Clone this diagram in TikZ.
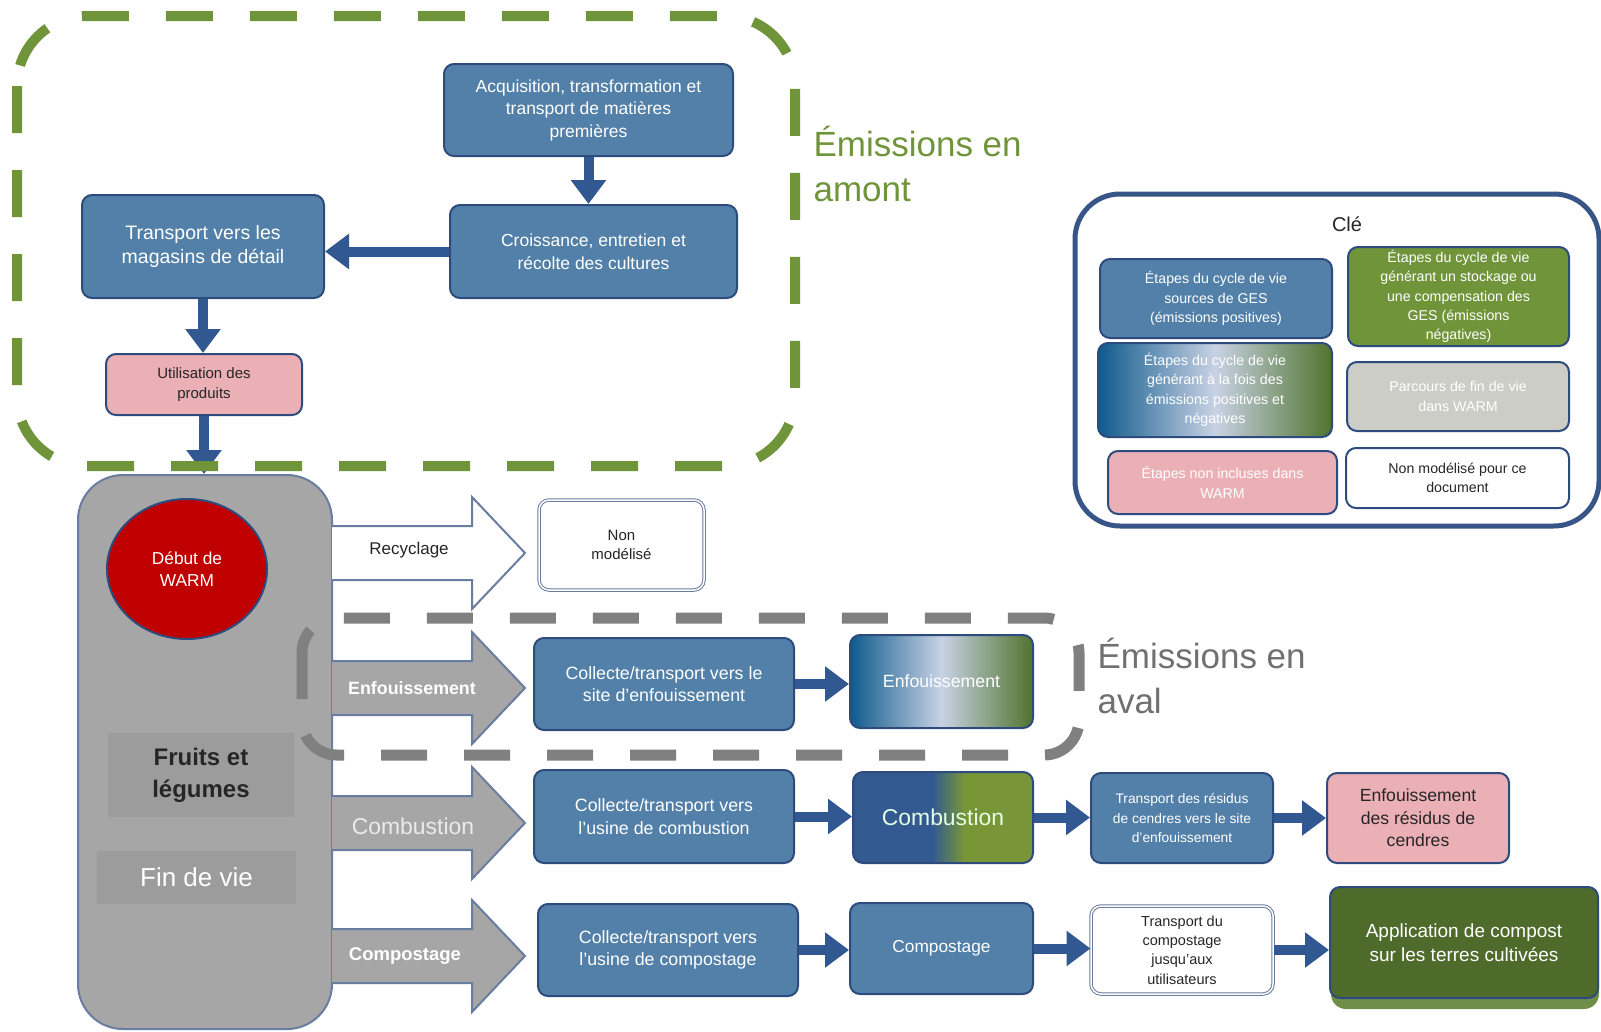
\documentclass[tikz,border=0pt]{standalone}
\usepackage{fontspec}
\setmainfont{Liberation Sans}
\usetikzlibrary{arrows.meta,shapes.geometric}

\definecolor{boxblue}{RGB}{82,128,168}
\definecolor{boxline}{RGB}{45,75,125}
\definecolor{flowblue}{RGB}{50,88,145}
\definecolor{emgreen}{RGB}{112,148,58}
\definecolor{appgreen}{RGB}{78,107,44}
\definecolor{appshadow}{RGB}{112,142,72}
\definecolor{eolgrey}{RGB}{166,166,166}
\definecolor{labelgrey}{RGB}{156,156,156}
\definecolor{dashgrey}{RGB}{128,128,128}
\definecolor{avalgrey}{RGB}{112,112,112}
\definecolor{pinkbox}{RGB}{234,176,182}
\definecolor{keygrey}{RGB}{205,205,200}
\definecolor{keyline}{RGB}{55,85,135}
\definecolor{gradblue}{RGB}{15,90,140}
\definecolor{gradlight}{RGB}{200,210,228}
\definecolor{gradgreen}{RGB}{80,115,45}
\definecolor{combblue}{RGB}{50,90,145}
\definecolor{combgreen}{RGB}{120,150,55}
\definecolor{darktext}{RGB}{38,38,38}
\definecolor{warmred}{RGB}{192,0,0}
\definecolor{arrowline}{RGB}{105,125,160}

\newcommand{\txtsize}[2]{\fontsize{#1}{#2}\selectfont}

\pgfdeclarehorizontalshading{combshade}{100bp}{color(0bp)=(combblue); color(25bp)=(combblue); color(47bp)=(combblue); color(56bp)=(combgreen); color(75bp)=(combgreen); color(100bp)=(combgreen)}

\tikzset{
  stage/.style={rectangle, rounded corners=10pt, draw=boxline, line width=2pt, fill=boxblue, text=white, align=center, inner sep=2pt},
  pinkstage/.style={stage, fill=pinkbox, text=darktext},
  openstage/.style={stage, fill=white, text=darktext, draw=arrowline, line width=1pt, double=white, double distance=1.5pt},
  bothshade/.style={left color=gradblue, right color=gradgreen, middle color=gradlight},
  flow/.style={draw=flowblue, line width=10pt, -{Triangle[length=24pt,width=34pt]}},
  keybox/.style={rectangle, rounded corners=10pt, draw=boxline, line width=2pt, align=center, inner sep=1pt, font=\txtsize{14.2}{19.4}}
}

\begin{document}
\begin{tikzpicture}[x=1pt,y=-1pt]
\useasboundingbox (0,0) rectangle (1601,1031);

\node[stage, minimum width=289pt, minimum height=92pt, font=\txtsize{17.5}{22.5}] (acq) at (588.5,110) {Acquisition, transformation et\\transport de matières\\premières};
\node[stage, minimum width=287pt, minimum height=93pt, font=\txtsize{17.5}{22.5}] (crois) at (593.5,251.5) {Croissance, entretien et\\récolte des cultures};
\node[stage, minimum width=242pt, minimum height=103pt, font=\txtsize{19.5}{24.5}] (magasin) at (203,246.5) {Transport vers les\\magasins de détail};
\node[pinkstage, minimum width=196pt, minimum height=61pt, font=\txtsize{15}{19.5}] (util) at (204,384.5) {Utilisation des\\produits};

\node[draw=arrowline, line width=2pt, fill=eolgrey, rounded corners=45pt, minimum width=254pt, minimum height=554pt] (eol) at (205,752) {};
\node[fill=labelgrey, minimum width=186pt, minimum height=84pt, text=darktext, align=center, font=\bfseries\txtsize{24}{32}] (fruits) at (201,775) {Fruits et\\légumes};
\node[fill=labelgrey, minimum width=199pt, minimum height=53pt, text=white, font=\txtsize{26}{30}] (findevie) at (196.5,877) {Fin de vie};
\node[ellipse, draw=boxline, line width=2pt, fill=warmred, minimum width=160pt, minimum height=140pt, text=white, align=center, font=\txtsize{17.3}{21.5}] (debut) at (187,569) {Début de\\WARM};

\draw[dashgrey, line width=11pt, dash pattern=on 46pt off 37pt, rounded corners=35pt] (302,618) rectangle (1079,755);

\foreach \yc/\fc in {553/white, 688/eolgrey, 823/eolgrey, 956/eolgrey}
  \draw[draw=arrowline, line width=2pt, fill=\fc] (332,\yc-27) -- (472,\yc-27) -- (472,\yc-56) -- (525,\yc) -- (472,\yc+56) -- (472,\yc+27) -- (332,\yc+27);

\node[text=darktext, font=\txtsize{17}{20}] (recy) at (409,550) {Recyclage};
\node[text=white, font=\bfseries\txtsize{17.8}{20}] (enfarr) at (412,688) {Enfouissement};
\node[text=white!92!black, font=\txtsize{22.9}{26}] (combarr) at (413,826) {Combustion};
\node[text=white, font=\bfseries\txtsize{18.5}{22}] (comparr) at (405,956) {Compostage};

\node[openstage, minimum width=165pt, minimum height=90pt, font=\txtsize{15}{19.5}] (nonmod) at (621.5,545) {Non\\modélisé};

\node[stage, minimum width=260pt, minimum height=92pt, font=\txtsize{17.8}{22.5}] (colenf) at (664,684) {Collecte/transport vers le\\site d’enfouissement};
\node[stage, bothshade, minimum width=183pt, minimum height=93pt, font=\txtsize{17.7}{21}] (enf) at (941.5,681.5) {Enfouissement};

\node[stage, minimum width=260pt, minimum height=93pt, font=\txtsize{17.8}{22.5}] (colcomb) at (664,816.5) {Collecte/transport vers\\l’usine de combustion};
\node[stage, shading=combshade, text=white!90!green, minimum width=180pt, minimum height=91pt, font=\txtsize{22.9}{26}] (comb) at (943,817.5) {Combustion};
\node[stage, minimum width=182pt, minimum height=90pt, font=\txtsize{13.8}{19.4}] (cendres) at (1182,818) {Transport des résidus\\de cendres vers le site\\d’enfouissement};
\node[pinkstage, minimum width=182pt, minimum height=90pt, font=\txtsize{17.6}{22.5}] (enfcend) at (1418,818) {Enfouissement\\des résidus de\\cendres};

\node[stage, minimum width=260pt, minimum height=92pt, font=\txtsize{17.8}{22.5}] (colcomp) at (668,950) {Collecte/transport vers\\l’usine de compostage};
\node[stage, minimum width=183pt, minimum height=91pt, font=\txtsize{17.3}{21}] (compo) at (941.5,948.5) {Compostage};
\node[openstage, minimum width=182pt, minimum height=88pt, font=\txtsize{14.5}{19.4}] (trcomp) at (1182,950) {Transport du\\compostage\\jusqu’aux\\utilisateurs};
\fill[appshadow, rounded corners=15pt] (1331,905) rectangle (1599,1009);
\node[stage, fill=appgreen, minimum width=268pt, minimum height=111pt, font=\txtsize{19}{23.5}] (appli) at (1464,942.5) {Application de compost\\sur les terres cultivées};

\draw[flow] (acq.south) -- (acq.south |- crois.north);
\draw[flow] (crois.west) -- (crois.west -| magasin.east);
\draw[flow] (magasin.south) -- (magasin.south |- util.north);
\draw[flow] (util.south) -- (util.south |- eol.north);
\draw[flow] (colenf.east) -- (colenf.east -| enf.west);
\draw[flow] (colcomb.east) -- (colcomb.east -| comb.west);
\draw[flow] (comb.east) -- (comb.east -| cendres.west);
\draw[flow] (cendres.east) -- (cendres.east -| enfcend.west);
\draw[flow] (colcomp.east) -- (colcomp.east -| compo.west);
\draw[flow] (compo.east) -- (compo.east -| trcomp.west);
\draw[flow] (trcomp.east) -- (trcomp.east -| appli.west);

\draw[emgreen, line width=10pt, dash pattern=on 47pt off 37pt, rounded corners=70pt] (17,16) rectangle (795,466);

\node[anchor=west, align=left, text=emgreen, font=\txtsize{35}{45}] (amont) at (810,163.5) {Émissions en\\amont};
\node[anchor=west, align=left, text=avalgrey, font=\txtsize{35}{45}] (aval) at (1094,675.5) {Émissions en\\aval};

\node[draw=keyline, line width=5pt, fill=white, rounded corners=45pt, minimum width=524pt, minimum height=332pt] (key) at (1337,360) {};
\node[text=darktext, font=\txtsize{20}{24}] (cle) at (1347,224) {Clé};
\node[keybox, fill=boxblue, text=white, minimum width=232pt, minimum height=79pt] (kblue) at (1216,298.5) {Étapes du cycle de vie\\sources de GES\\(émissions positives)};
\node[keybox, fill=emgreen, text=white, minimum width=221pt, minimum height=99pt] (kgreen) at (1458.5,296.5) {Étapes du cycle de vie\\générant un stockage ou\\une compensation des\\GES (émissions\\négatives)};
\node[keybox, bothshade, text=white, minimum width=234pt, minimum height=94pt] (kboth) at (1215,390) {Étapes du cycle de vie\\générant à la fois des\\émissions positives et\\négatives};
\node[keybox, fill=keygrey, text=white, minimum width=222pt, minimum height=69pt] (kgrey) at (1458,396.5) {Parcours de fin de vie\\dans WARM};
\node[keybox, fill=pinkbox, text=white, minimum width=229pt, minimum height=63pt] (kpink) at (1222.5,482.5) {Étapes non incluses dans\\WARM};
\node[keybox, fill=white, text=darktext, minimum width=223pt, minimum height=60pt] (kwhite) at (1457.5,478) {Non modélisé pour ce\\document};
\end{tikzpicture}
\end{document}
